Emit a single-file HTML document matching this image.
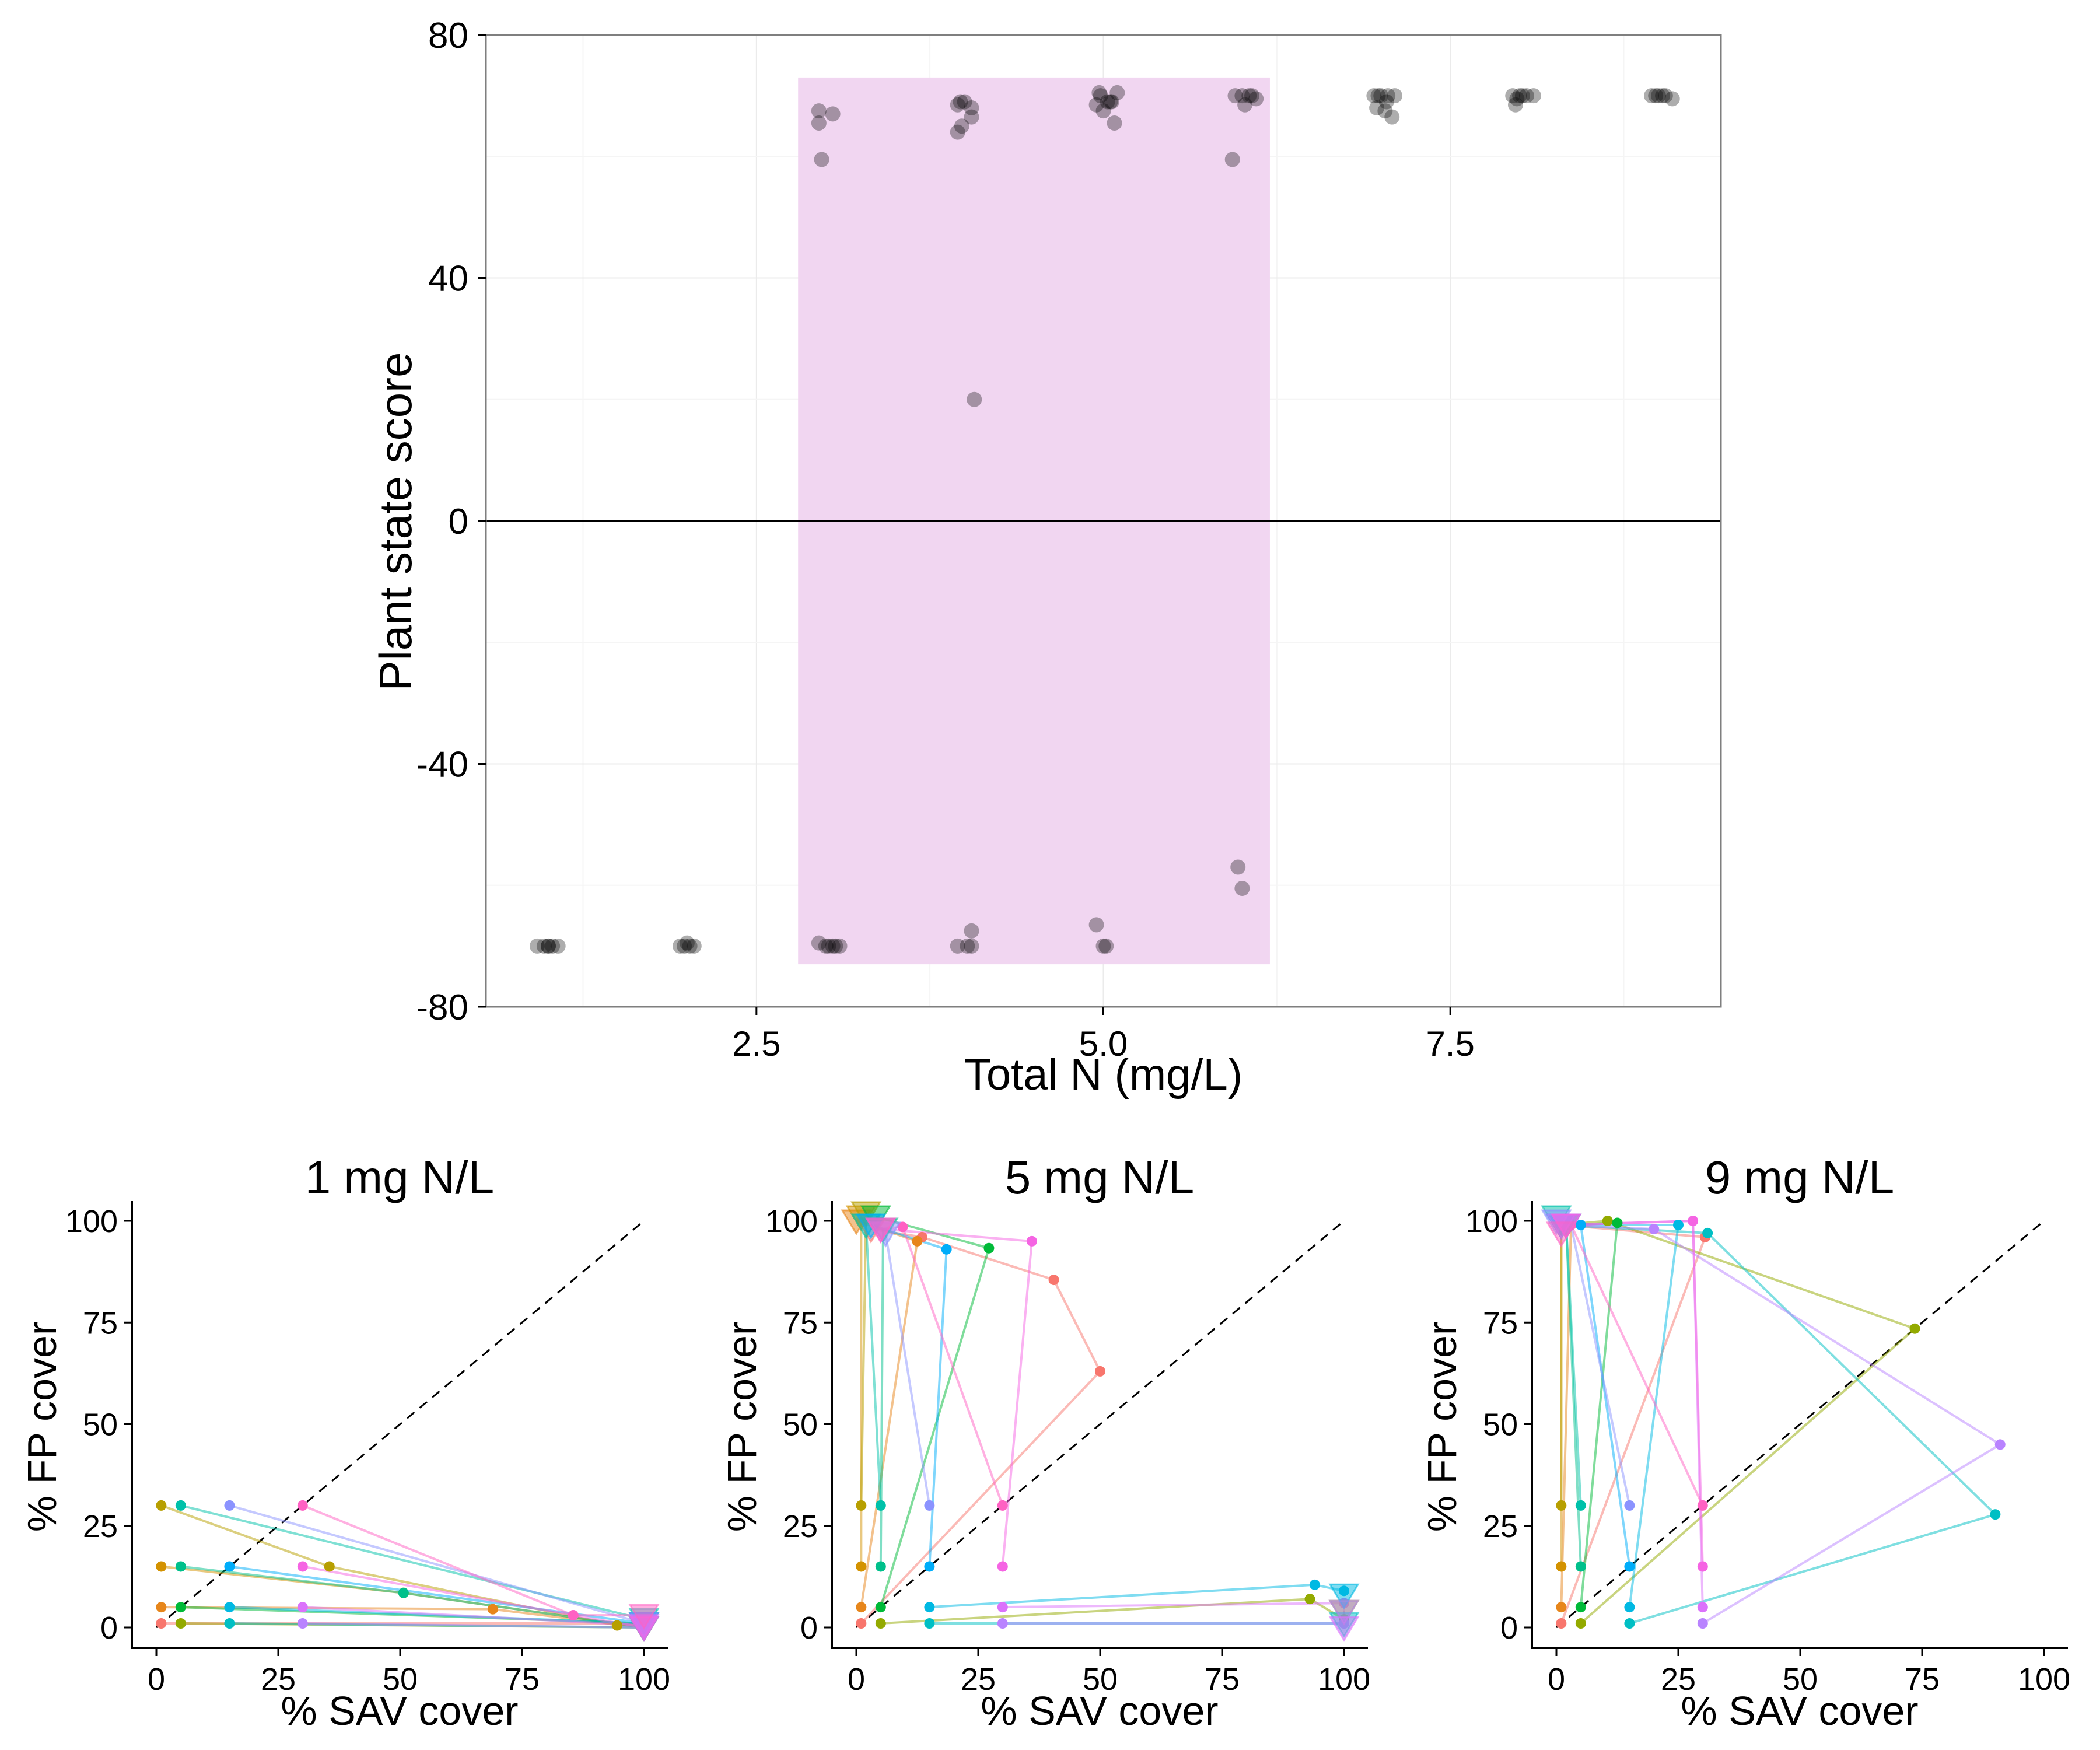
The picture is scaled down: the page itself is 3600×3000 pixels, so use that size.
<!DOCTYPE html>
<html><head><meta charset="utf-8"><style>
html,body{margin:0;padding:0;background:#fff;}
svg{display:block;font-family:"Liberation Sans",Arial,sans-serif;}
</style></head><body>
<svg id="fig" width="3600" height="3000" viewBox="0 0 3600 3000" xmlns="http://www.w3.org/2000/svg">
<rect width="3600" height="3000" fill="#fff"/>
<g id="top"></g>
<g id="p0"></g>
<g id="p1"></g>
<g id="p2"></g>
</svg>
<script>
// ---------- top chart data ----------
const topXTicks = [2.5, 5.0, 7.5];
const topXTickLabels = ["2.5", "5.0", "7.5"];
const topYTicks = [80, 40, 0, -40, -80];
const topYTickLabels = ["80", "40", "0", "-40", "-80"];
const bandRange = [2.8, 6.2];
const bandY = [-73, 73];
const topN = [0.92,0.97,1.0,1.03,1.07,1.0, 1.95,2.0,2.05,2.02,1.98,
  2.95,3.05,2.95,2.97,2.95,3.0,3.05,3.1,3.02,3.07,
  3.95,4.0,4.05,4.05,3.98,3.95,4.07,4.05,3.95,4.05,4.02,3.97,
  4.97,5.1,5.05,4.95,5.0,5.08,4.95,5.0,5.02,5.03,4.98,5.06,
  5.95,6.05,6.1,6.02,5.93,5.97,6.0,6.07,6.0,
  6.95,7.05,7.1,6.97,7.03,7.08,7.0,6.98,7.04,
  7.95,8.05,8.1,7.97,8.02,8.0,7.98,
  8.95,9.05,9.1,9.0,8.98,9.03];
const topScore = [-70,-70,-70,-70,-70,-70, -70,-69.5,-70,-70,-70,
  67.5,67,65.5,59.5,-69.5,-70,-70,-70,-70,-70,
  68.5,69,68,66.5,65,64,20,-67.5,-70,-70,-70,69,
  70.5,70.5,69,68.5,67.5,65.5,-66.5,-70,-70,69,70,69,
  70,70,69.5,68.5,59.5,-57,-60.5,70,70,
  70,70,70,68,67.5,66.5,70,70,69,
  70,70,70,68.5,70,70,69.5,
  70,70,69.5,70,70,70];

// ---------- bottom panels data ----------
const panelTitles = ["1 mg N/L", "5 mg N/L", "9 mg N/L"];
const seriesColors = ["#F8766D","#E7861B","#D39200","#B79F00","#93AA00","#00BA38","#00C08B","#00C1AA",
  "#00BFC4","#00B9E3","#00ADFA","#8B93FF","#B983FF","#DB72FB","#F564E3","#FF61C3"];
const startSAV = [1,1,1,1, 5,5,5,5, 15,15,15,15, 30,30,30,30];
const startFP  = [1,5,15,30, 1,5,15,30, 1,5,15,30, 1,5,15,30];
const axisTicks = [0,25,50,75,100];
const sav1 = [[100],[69,100],[50.7,100],[35.5,94.5,100],[100],[100],[50.7,100],[100],[100],[100],[100],[100],[100],[100],[85.5,100],[85.5,100]];
const fp1  = [[1],[4.5,0],[8.5,0],[15,0.5,1],[0],[1],[8.5,0],[2],[0],[1],[1],[1],[0],[0.5],[3,0],[3,3]];
const sav5 = [[50,40.5,13.5,3],[12.5,0],[1],[2],[93,100,100],[27.2,4],[5.5],[2],[100,100],[94,100,100],[18.5,3],[6],[100,100],[100,100],[36,5],[9.5,5]];
const fp5  = [[63,85.5,96,98],[95,100],[101],[102],[7,2,4],[93.3,101],[98],[99],[1,1],[10.5,9,8],[93,99],[97],[1,4],[6,0],[95,98],[98.5,98]];
const sav9 = [[30.5,1],[3,1],[1,1],[1,1],[73.5,10.5,1],[12.5,2],[2,1],[2,0],[90,31,1],[25,2],[5,1],[3,0],[91,20,1],[28,2],[28,2],[3,1]];
const fp9  = [[96,99],[99,99],[99,99],[99,99],[73.5,100,99],[99.5,99],[99,99],[99,101],[27.8,97,99],[99,99],[99,99],[99,100],[45,98,99],[100,99],[100,99],[99,97]];
const panelSAV = [sav1, sav5, sav9];
const panelFP = [fp1, fp5, fp9];

const NS = "http://www.w3.org/2000/svg";
function mk(parent, tag, attrs, text){
  const e = document.createElementNS(NS, tag);
  for (const k in attrs) e.setAttribute(k, attrs[k]);
  if (text !== undefined) e.textContent = text;
  parent.appendChild(e);
  return e;
}

// ---------- top chart ----------
(function(){
  const g = document.getElementById('top');
  const L=833, R=2950, T=60, B=1726;
  const xMin=0.55, xMax=9.45, yMin=-80, yMax=80;
  const sx = v => L + (v-xMin)/(xMax-xMin)*(R-L);
  const sy = v => B - (v-yMin)/(yMax-yMin)*(B-T);
  for (let v=1.25; v<9.45; v+=1.25){
    const l = mk(g,'line',{x1:sx(v),x2:sx(v),y1:T,y2:B,stroke: (Math.abs(v/2.5-Math.round(v/2.5))<1e-6)?'#ebebeb':'#f5f5f5','stroke-width':2});
    
    
  }
  for (let v=-60; v<=60; v+=20){
    const l = mk(g,'line',{x1:L,x2:R,y1:sy(v),y2:sy(v),stroke:(v%40===0)?'#ebebeb':'#f5f5f5','stroke-width':2});
    
    
  }
  const band = mk(g,'rect',{x:sx(bandRange[0]),y:sy(bandY[1]),width:sx(bandRange[1])-sx(bandRange[0]),height:sy(bandY[0])-sy(bandY[1]),fill:'#f1d6f1'});
  
  
  const zl = mk(g,'line',{x1:L,x2:R,y1:sy(0),y2:sy(0),stroke:'#000','stroke-width':3});
  
  
  for (let i=0;i<topN.length;i++){
    const c = mk(g,'circle',{cx:sx(topN[i]),cy:sy(topScore[i]),r:13,fill:'#000','fill-opacity':0.32});
    
    
  }
  const fr = mk(g,'rect',{x:L,y:T,width:R-L,height:B-T,fill:'none',stroke:'#7f7f7f','stroke-width':3});
  
  
  topYTicks.forEach((v,i)=>{
    const t = mk(g,'line',{x1:L-14,x2:L,y1:sy(v),y2:sy(v),stroke:'#000','stroke-width':3});
    
    
    const tx = mk(g,'text',{x:L-30,y:sy(v)+22,'font-size':62,'text-anchor':'end',fill:'#000'},topYTickLabels[i]);
    
    
  });
  topXTicks.forEach((v,i)=>{
    const t = mk(g,'line',{x1:sx(v),x2:sx(v),y1:B,y2:B+14,stroke:'#000','stroke-width':3});
    
    
    const tx = mk(g,'text',{x:sx(v),y:B+84,'font-size':60,'text-anchor':'middle',fill:'#000'},topXTickLabels[i]);
    
    
  });
  const xt = mk(g,'text',{x:(L+R)/2,y:1868,'font-size':76,'text-anchor':'middle',fill:'#000'},'Total N (mg/L)');
  
  
  const yt = mk(g,'text',{x:0,y:0,'font-size':78,'text-anchor':'middle',fill:'#000',transform:'translate(705,894) rotate(-90)'},'Plant state score');
  
  
})();

// ---------- bottom panels ----------
for (let p=0;p<3;p++){
  const g = document.getElementById('p'+p);
  const off = p*1200;
  const L=226+off, R=1145+off, T=2059, B=2825;
  const sx = v => 268+off + v*8.36;
  const sy = v => 2790 - v*6.97;
  const tt = mk(g,'text',{x:685+off,y:2046,'font-size':80,'text-anchor':'middle',fill:'#000'},panelTitles[p]);
  
  
  const dg = mk(g,'line',{x1:sx(0),y1:sy(0),x2:sx(100),y2:sy(100),stroke:'#000','stroke-width':3,'stroke-dasharray':'16 12'});
  
  
  const SA = panelSAV[p], FP = panelFP[p];
  for (let s=0;s<16;s++){
    const xs=[startSAV[s]].concat(SA[s]), ys=[startFP[s]].concat(FP[s]);
    const pts = xs.map((v,i)=>sx(v)+','+sy(ys[i])).join(' ');
    const pl = mk(g,'polyline',{points:pts,fill:'none',stroke:seriesColors[s],'stroke-width':4,'stroke-opacity':0.5,'stroke-linejoin':'round'});
    
    
  }
  for (let s=0;s<16;s++){
    const xs=[startSAV[s]].concat(SA[s]), ys=[startFP[s]].concat(FP[s]);
    for (let i=0;i<xs.length-1;i++){
      const c = mk(g,'circle',{cx:sx(xs[i]),cy:sy(ys[i]),r:9,fill:seriesColors[s]});
      
      
    }
  }
  for (let s=0;s<16;s++){
    const n=SA[s].length-1;
    const x2=sx(SA[s][n]), y2=sy(FP[s][n]);
    const h=36,w=24;
    const tri = mk(g,'polygon',{points:`${x2-w},${y2-h/2} ${x2+w},${y2-h/2} ${x2},${y2+h/2+4}`,fill:seriesColors[s],'fill-opacity':0.5,stroke:seriesColors[s],'stroke-opacity':0.6,'stroke-width':3});
    
    
  }
  const ax = mk(g,'path',{d:`M${L},${T} L${L},${B} L${R},${B}`,fill:'none',stroke:'#000','stroke-width':4});
  
  
  axisTicks.forEach(v=>{
    const t1 = mk(g,'line',{x1:L-14,x2:L,y1:sy(v),y2:sy(v),stroke:'#000','stroke-width':3});
    
    
    const l1 = mk(g,'text',{x:L-24,y:sy(v)+19,'font-size':54,'text-anchor':'end',fill:'#000'},String(v));
    
    
    const t2 = mk(g,'line',{x1:sx(v),x2:sx(v),y1:B,y2:B+14,stroke:'#000','stroke-width':3});
    
    
    const l2 = mk(g,'text',{x:sx(v),y:B+72,'font-size':54,'text-anchor':'middle',fill:'#000'},String(v));
    
    
  });
  const xt = mk(g,'text',{x:685+off,y:2957,'font-size':70,'text-anchor':'middle',fill:'#000'},'% SAV cover');
  
  
  const yt = mk(g,'text',{x:0,y:0,'font-size':70,'text-anchor':'middle',fill:'#000',transform:`translate(${96+off},2446) rotate(-90)`},'% FP cover');
  
  
}
</script>
</body></html>
